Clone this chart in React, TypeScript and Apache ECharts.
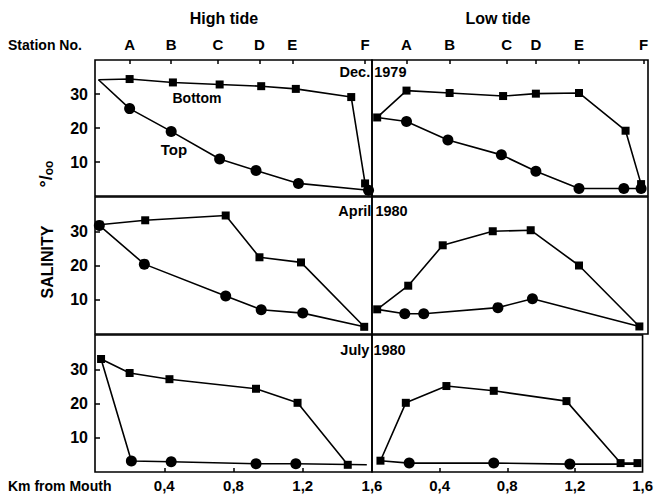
import React, { useEffect, useRef } from "react";
import * as echarts from "echarts";

// Distance from the river mouth (km) and salinity (per mille) at the surface ("Top")
// and near the bed ("Bottom"), for high and low tide on three survey dates.
const kmTicks = [0.4, 0.8, 1.2, 1.6];
const salinityTicks = [10, 20, 30];
const stationNames = ["A", "B", "C", "D", "E", "F"];
const stationKmHigh = [0.2, 0.44, 0.71, 0.95, 1.14, 1.56];
const stationKmLow = [0.2, 0.45, 0.78, 0.95, 1.2, 1.575];
const surveyDates = ["Dec. 1979", "April 1980", "July 1980"];

const decHighTop = [[0.02, 34.2], [0.2, 25.7], [0.44, 19.0], [0.72, 10.9], [0.93, 7.5], [1.175, 3.7], [1.58, 1.7]];
const decHighBottom = [[0.02, 34.2], [0.2, 34.4], [0.45, 33.4], [0.72, 32.8], [0.96, 32.3], [1.16, 31.5], [1.48, 29.1], [1.56, 3.7]];
const decLowTop = [[0.03, 23.1], [0.2, 21.9], [0.44, 16.5], [0.75, 12.1], [0.95, 7.3], [1.2, 2.2], [1.46, 2.2], [1.56, 2.2]];
const decLowBottom = [[0.03, 23.1], [0.2, 31.0], [0.45, 30.3], [0.76, 29.4], [0.95, 30.1], [1.2, 30.3], [1.47, 19.2], [1.56, 3.5]];
const aprHighTop = [[0.025, 31.7], [0.285, 20.4], [0.755, 11.1], [0.96, 7.1], [1.2, 6.1], [1.555, 2.1]];
const aprHighBottom = [[0.025, 31.9], [0.29, 33.2], [0.755, 34.6], [0.95, 22.4], [1.19, 20.9], [1.555, 2.1]];
const aprLowTop = [[0.03, 7.2], [0.19, 5.9], [0.3, 5.9], [0.73, 7.7], [0.93, 10.3], [1.55, 2.2]];
const aprLowBottom = [[0.03, 7.2], [0.21, 14.1], [0.41, 25.9], [0.7, 30.0], [0.92, 30.3], [1.2, 20.0], [1.55, 2.2]];
const julHighTop = [[0.035, 33.0], [0.21, 3.2], [0.44, 3.0], [0.93, 2.4], [1.16, 2.4], [1.57, 2.1]];
const julHighBottom = [[0.035, 33.0], [0.2, 28.9], [0.43, 27.1], [0.93, 24.3], [1.17, 20.2], [1.46, 2.1]];
const julLowTop = [[0.05, 3.3], [0.22, 2.6], [0.72, 2.6], [1.17, 2.3], [1.57, 2.3]];
const julLowBottom = [[0.05, 3.3], [0.2, 20.2], [0.44, 25.1], [0.72, 23.7], [1.15, 20.7], [1.47, 2.6], [1.57, 2.6]];

// Points where a line only starts or ends (no marker drawn there).
const decHighTopBare = [0];
const decHighBottomBare = [0];
const decLowTopBare = [0];
const aprHighTopBare = [5];
const aprLowTopBare = [0, 5];
const julHighTopBare = [0, 5];
const julLowTopBare = [0, 4];

const FONT = '"Liberation Sans", Arial, Helvetica, sans-serif';

type Panel = { top: number[][]; bottom: number[][]; topBare: number[]; bottomBare: number[] };

const panels: Panel[] = [
  { top: decHighTop, bottom: decHighBottom, topBare: decHighTopBare, bottomBare: decHighBottomBare },
  { top: decLowTop, bottom: decLowBottom, topBare: decLowTopBare, bottomBare: [] },
  { top: aprHighTop, bottom: aprHighBottom, topBare: aprHighTopBare, bottomBare: [] },
  { top: aprLowTop, bottom: aprLowBottom, topBare: aprLowTopBare, bottomBare: [] },
  { top: julHighTop, bottom: julHighBottom, topBare: julHighTopBare, bottomBare: [] },
  { top: julLowTop, bottom: julLowBottom, topBare: julLowTopBare, bottomBare: [] },
];

const rows = [
  { top: 60, height: 136 },
  { top: 197, height: 137 },
  { top: 335, height: 137 },
];
const cols = [
  { left: 95, width: 277 },
  { left: 372, width: 276 },
];

function toData(points: number[][], bare: number[]) {
  return points.map((p, i) =>
    bare.includes(i) ? { value: p, symbol: "none" } : { value: p }
  );
}

function stationLabel(stations: number[]) {
  return (v: number) => {
    let best = 0;
    stations.forEach((s, i) => {
      if (Math.abs(s - v) < Math.abs(stations[best] - v)) best = i;
    });
    return stationNames[best];
  };
}

function buildOption() {
  const grid: any[] = [];
  const xAxis: any[] = [];
  const yAxis: any[] = [];
  const series: any[] = [];

  rows.forEach((r, ri) => {
    cols.forEach((c, ci) => {
      const g = ri * 2 + ci;
      grid.push({
        left: c.left,
        top: r.top,
        width: c.width,
        height: r.height,
        show: true,
        borderColor: "#000",
        borderWidth: 1.6,
        backgroundColor: "transparent",
        containLabel: false,
      });
      const isBottomRow = ri === rows.length - 1;
      xAxis.push({
        gridIndex: g,
        type: "value",
        min: 0,
        max: 1.6,
        interval: 0.4,
        axisLine: { show: false },
        splitLine: { show: false },
        axisTick: {
          show: isBottomRow,
          inside: true,
          length: 4,
          customValues: [0.4, 0.8, 1.2],
          lineStyle: { color: "#000", width: 1.5 },
        },
        axisLabel: {
          show: isBottomRow,
          customValues: kmTicks,
          formatter: (v: number) => v.toFixed(1).replace(".", ","),
          color: "#000",
          fontFamily: FONT,
          fontWeight: "bold",
          fontSize: 15,
          margin: 6,
        },
      });
      const isLeft = ci === 0;
      yAxis.push({
        gridIndex: g,
        type: "value",
        min: 0,
        max: 40,
        interval: 10,
        axisLine: { show: false },
        splitLine: { show: false },
        axisTick: {
          show: isLeft,
          inside: true,
          length: 5,
          customValues: salinityTicks,
          lineStyle: { color: "#000", width: 1.5 },
        },
        axisLabel: {
          show: isLeft,
          customValues: salinityTicks,
          color: "#000",
          fontFamily: FONT,
          fontWeight: "bold",
          fontSize: 16,
          margin: 7,
        },
      });
    });
  });

  // Station letters along the top edge of the first row
  [stationKmHigh, stationKmLow].forEach((stations, ci) => {
    xAxis.push({
      gridIndex: ci,
      type: "value",
      position: "top",
      min: 0,
      max: 1.6,
      axisLine: { show: false },
      splitLine: { show: false },
      axisTick: {
        show: true,
        inside: true,
        length: 4,
        customValues: stations,
        lineStyle: { color: "#000", width: 1.5 },
      },
      axisLabel: {
        show: true,
        customValues: stations,
        formatter: stationLabel(stations),
        color: "#000",
        fontFamily: FONT,
        fontWeight: "bold",
        fontSize: 15,
        margin: 8,
      },
    });
  });

  panels.forEach((p, g) => {
    series.push({
      type: "line",
      name: "Top",
      xAxisIndex: g,
      yAxisIndex: g,
      data: toData(p.top, p.topBare),
      symbol: "circle",
      symbolSize: 11,
      lineStyle: { color: "#000", width: 1.6 },
      itemStyle: { color: "#000" },
      z: 3,
    });
    series.push({
      type: "line",
      name: "Bottom",
      xAxisIndex: g,
      yAxisIndex: g,
      data: toData(p.bottom, p.bottomBare),
      symbol: "rect",
      symbolSize: 8,
      lineStyle: { color: "#000", width: 1.6 },
      itemStyle: { color: "#000" },
      z: 4,
    });
  });

  const bold = (size: number) => ({
    fill: "#000",
    fontFamily: FONT,
    fontWeight: "bold",
    fontSize: size,
  });

  const dateY = [72, 211, 350];
  const graphic: any[] = [
    { type: "text", x: 224, y: 18, style: { ...bold(16), text: "High tide", textAlign: "center", textVerticalAlign: "middle" } },
    { type: "text", x: 498, y: 18, style: { ...bold(16), text: "Low tide", textAlign: "center", textVerticalAlign: "middle" } },
    { type: "text", x: 8, y: 45, style: { ...bold(14), text: "Station No.", textAlign: "left", textVerticalAlign: "middle" } },
    { type: "text", x: 8, y: 486, style: { ...bold(14), text: "Km from Mouth", textAlign: "left", textVerticalAlign: "middle" } },
    { type: "text", x: 197, y: 98, style: { ...bold(14), text: "Bottom", textAlign: "center", textVerticalAlign: "middle" } },
    { type: "text", x: 174, y: 149, style: { ...bold(15), text: "Top", textAlign: "center", textVerticalAlign: "middle" } },
    {
      type: "text",
      x: 47,
      y: 262,
      rotation: Math.PI / 2,
      style: { ...bold(16), text: "SALINITY", textAlign: "center", textVerticalAlign: "middle" },
    },
    {
      type: "text",
      x: 46,
      y: 174,
      rotation: Math.PI / 2,
      style: {
        ...bold(18),
        text: "°/{s|oo}",
        textAlign: "center",
        textVerticalAlign: "middle",
        rich: { s: { fontFamily: FONT, fontWeight: "bold", fontSize: 12, fill: "#000", padding: [6, 0, 0, 0] } },
      },
    },
    ...surveyDates.map((d, i) => ({
      type: "text",
      x: 373,
      y: dateY[i],
      style: { ...bold(14.5), text: d, textAlign: "center", textVerticalAlign: "middle" },
    })),
  ];

  return {
    animation: false,
    backgroundColor: "#fff",
    grid,
    xAxis,
    yAxis,
    series,
    graphic,
  };
}

export default function App() {
  const ref = useRef<HTMLDivElement>(null);

  useEffect(() => {
    if (!ref.current) return;
    const chart = echarts.init(ref.current, null, { renderer: "svg" });
    chart.setOption(buildOption());
    return () => chart.dispose();
  }, []);

  return (
    <div
      ref={ref}
      style={{ position: "fixed", left: 0, top: 0, width: 656, height: 494, background: "#fff" }}
    />
  );
}
